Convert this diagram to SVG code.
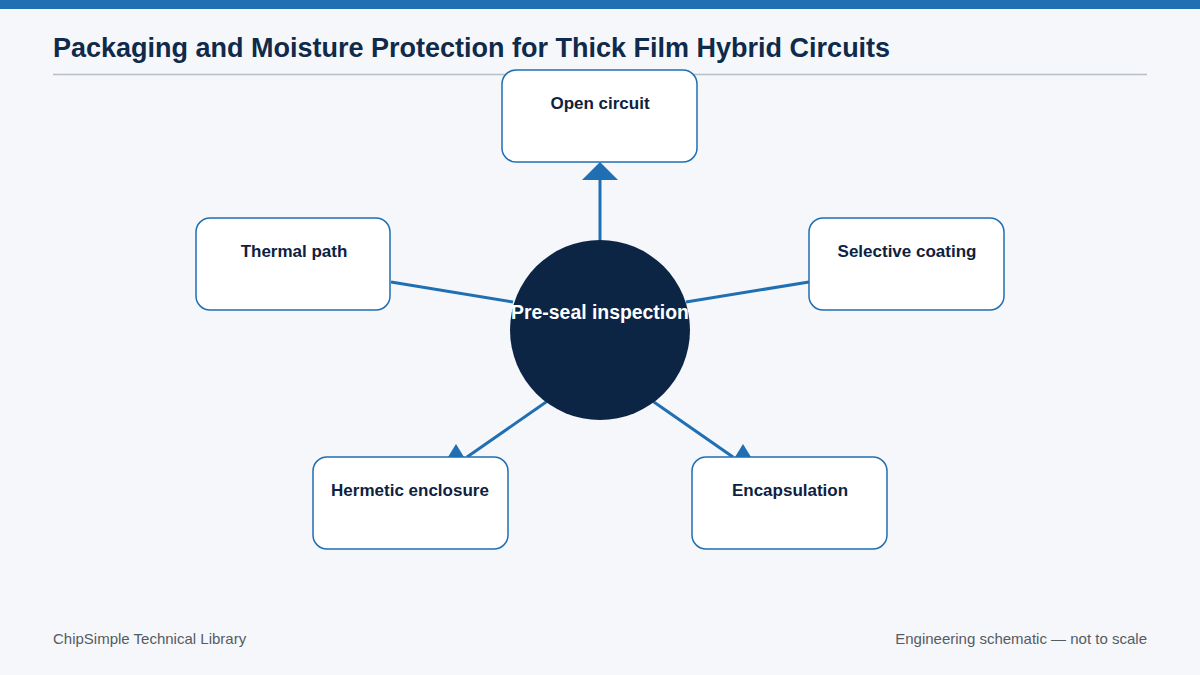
<svg xmlns="http://www.w3.org/2000/svg" width="1200" height="675" viewBox="0 0 1200 675">
<style>
.box{fill:#ffffff;stroke:#1f6fb2;stroke-width:1.5}
.lbl{font-family:"Liberation Sans",Arial,sans-serif;font-size:17px;font-weight:bold;fill:#0d2240;text-anchor:middle}
.edge{stroke:#1f6fb2;stroke-width:3;fill:none}
.head{fill:#1f6fb2}
.foot{font-family:"Liberation Sans",Arial,sans-serif;font-size:15px;fill:#555b63}
</style>
<rect width="1200" height="675" fill="#f5f7fb"/>
<rect width="1200" height="9" fill="#1f6fb2"/>
<text x="53" y="57" font-family="'Liberation Sans',Arial,sans-serif" font-size="27" font-weight="bold" fill="#0f2a4a">Packaging and Moisture Protection for Thick Film Hybrid Circuits</text>
<line x1="53" y1="74.500" x2="1147" y2="74.500" stroke="#b8bec6" stroke-width="1.500"/>
<g id="connectors">
<line class="edge" x1="600" y1="242" x2="600" y2="178"/>
<polygon class="head" points="600,162 582,180 618,180"/>
<line class="edge" x1="391" y1="282" x2="513" y2="302"/>
<line class="edge" x1="809" y1="282" x2="686" y2="302"/>
<line class="edge" x1="549" y1="400" x2="467" y2="457"/>
<polygon class="head" points="456,444 448,457 464,457"/>
<line class="edge" x1="651" y1="400" x2="733" y2="457"/>
<polygon class="head" points="743,444 735,457 751,457"/>
</g>
<g id="center">
<circle cx="600" cy="330" r="90" fill="#0d2545"/>
<text x="600" y="319" font-family="'Liberation Sans',Arial,sans-serif" font-size="19.400" font-weight="bold" fill="#ffffff" text-anchor="middle">Pre-seal inspection</text>
</g>
<g id="open-circuit">
<rect class="box" x="502" y="70" width="195" height="92" rx="14"/>
<text class="lbl" x="600" y="109">Open circuit</text>
</g>
<g id="thermal-path">
<rect class="box" x="196" y="218" width="194" height="92" rx="14"/>
<text class="lbl" x="294" y="257">Thermal path</text>
</g>
<g id="selective-coating">
<rect class="box" x="809" y="218" width="195" height="92" rx="14"/>
<text class="lbl" x="907" y="257">Selective coating</text>
</g>
<g id="hermetic-enclosure">
<rect class="box" x="313" y="457" width="195" height="92" rx="14"/>
<text class="lbl" x="410" y="496">Hermetic enclosure</text>
</g>
<g id="encapsulation">
<rect class="box" x="692" y="457" width="195" height="92" rx="14"/>
<text class="lbl" x="790" y="496">Encapsulation</text>
</g>
<text class="foot" x="53" y="644">ChipSimple Technical Library</text>
<text class="foot" x="1147" y="644" text-anchor="end">Engineering schematic — not to scale</text>
</svg>
